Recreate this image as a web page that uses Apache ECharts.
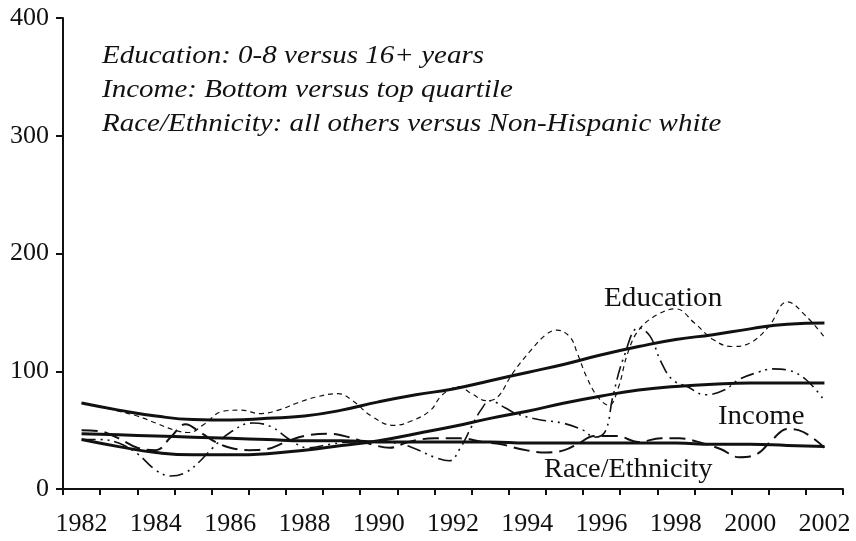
<!DOCTYPE html>
<html>
<head>
<meta charset="utf-8">
<script src="https://cdn.jsdelivr.net/npm/echarts@6/dist/echarts.min.js"></script>
<style>
html,body{margin:0;padding:0;background:#fff;}
#chart{width:856px;height:541px;}
</style>
</head>
<body>
<div id="chart"></div>
<script>
// Category years for the x axis
const years = ['1982','1983','1984','1985','1986','1987','1988','1989','1990','1991','1992','1993','1994','1995','1996','1997','1998','1999','2000','2001','2002'];
const yTicks = [0, 100, 200, 300, 400];

// Smoothed trend lines (one value per year)
const educationTrend = [73,67,62,59,58.5,60,62,67,74,80,85,92,99,106,114,121,127,131,136,140,141];
const incomeTrend    = [42,36,31,29,29,30,33,37,41,47,53,60,66,73,79,84,87,89,90,90,90];
const raceTrend      = [47,46,45,44,43,42,41,41,40,40,40,40,39,39,39,39,39,38,38,37,36];

// Observed (unsmoothed) series: [year, value]
const educationObserved = [[1982,73],[1982.5,70],[1983,66],[1983.5,62],[1984,56],[1984.5,50],[1984.9,48],[1985.3,55],[1985.8,66],[1986.3,67],[1986.8,64],[1987.3,67],[1987.8,73],[1988.3,78],[1988.9,81],[1989.3,75],[1989.8,62],[1990.4,54],[1990.9,58],[1991.4,67],[1991.65,78],[1991.9,84],[1992.15,87],[1992.5,81],[1992.9,75],[1993.2,78],[1993.6,98],[1994.1,118],[1994.5,131],[1994.8,135],[1995.15,129],[1995.35,115],[1995.6,95],[1995.9,78],[1996.2,71],[1996.45,86],[1996.7,115],[1997,135],[1997.5,148],[1998,153],[1998.5,141],[1999,127],[1999.5,121],[2000,124],[2000.5,138],[2001,159],[2001.5,147],[2002,129]];
const incomeObserved = [[1982,42],[1982.5,42],[1983,39],[1983.5,30],[1984,16],[1984.4,11],[1984.8,14],[1985.2,24],[1985.5,34],[1986,48],[1986.6,56],[1987.1,53],[1987.6,42],[1988.1,35],[1988.7,38],[1989.3,40],[1989.9,40],[1990.5,39],[1991,34],[1991.5,27],[1991.9,24],[1992.2,35],[1992.5,53],[1992.75,67],[1993,75],[1993.4,69],[1993.7,64],[1994.3,59],[1994.95,56],[1995.5,50],[1995.8,44],[1996.1,49],[1996.3,78],[1996.6,112],[1997,137],[1997.3,130],[1997.6,108],[1997.9,93],[1998.3,87],[1998.8,80],[1999.3,84],[1999.7,93],[2000.2,99],[2000.6,102],[2001,101],[2001.5,93],[2002,75]];
const raceObserved = [[1982,50],[1982.5,49],[1983,43],[1983.5,35],[1984,33],[1984.4,44],[1984.8,55],[1985.2,48],[1985.6,40],[1986,35],[1986.5,33],[1987,34],[1987.5,40],[1988,45],[1988.6,47],[1989.2,44],[1989.8,38],[1990.3,35],[1990.8,40],[1991.5,43],[1992.2,43],[1992.8,40],[1993.3,38],[1993.8,34],[1994.5,31],[1995,33],[1995.4,39],[1995.8,45],[1996.4,45],[1997,40],[1997.6,43],[1998.1,43],[1998.6,40],[1999.2,34],[1999.7,27],[2000.2,30],[2000.6,42],[2001,51],[2001.3,50],[2001.7,43],[2002,35]];

const noteLines = ['Education: 0-8 versus 16+ years','Income: Bottom versus top quartile','Race/Ethnicity: all others versus Non-Hispanic white'];
const seriesLabels = ['Education','Income','Race/Ethnicity'];

const INK = '#111';
const SERIF = '"Liberation Serif","Times New Roman",serif';

function trendData(vals){ return years.map((y,i)=>[Number(y), vals[i]]); }
function txt(s, x, y, font, sx){
  return {type:'text', x:x, y:y, scaleX:sx, style:{text:s, font:font, fill:INK, x:0, y:0, verticalAlign:'top', align:'left'}};
}

const chart = echarts.init(document.getElementById('chart'), null, {renderer:'canvas'});
chart.setOption({
  backgroundColor:'#fff',
  animation:false,
  grid:{left:63, right:13, top:18, bottom:52},
  xAxis:[{
    type:'category', data:years, boundaryGap:true,
    axisLine:{lineStyle:{color:INK, width:2}},
    axisTick:{show:true, interval:0, length:6, lineStyle:{color:INK, width:2}},
    axisLabel:{interval:1, color:INK, fontFamily:SERIF, fontSize:26, margin:22},
    splitLine:{show:false}
  },{
    type:'value', min:1981.5, max:2002.5, show:false
  }],
  yAxis:{
    type:'value', min:yTicks[0], max:yTicks[yTicks.length-1], interval:100,
    axisLine:{show:true, lineStyle:{color:INK, width:2}},
    axisTick:{show:true, length:7, lineStyle:{color:INK, width:2}},
    axisLabel:{color:INK, fontFamily:SERIF, fontSize:26, margin:14},
    splitLine:{show:false}
  },
  series:[
    {type:'line', xAxisIndex:1, data:trendData(educationTrend), smooth:true, symbol:'none', lineStyle:{color:INK, width:3}},
    {type:'line', xAxisIndex:1, data:trendData(incomeTrend), smooth:true, symbol:'none', lineStyle:{color:INK, width:3}},
    {type:'line', xAxisIndex:1, data:trendData(raceTrend), smooth:true, symbol:'none', lineStyle:{color:INK, width:3}},
    {type:'line', xAxisIndex:1, data:educationObserved, smooth:0.4, symbol:'none', lineStyle:{color:INK, width:1.2, type:[5,4]}},
    {type:'line', xAxisIndex:1, data:incomeObserved, smooth:0.4, symbol:'none', lineStyle:{color:INK, width:1.6, type:[14,5,2,5,2,5]}},
    {type:'line', xAxisIndex:1, data:raceObserved, smooth:0.4, symbol:'none', lineStyle:{color:INK, width:2, type:[16,7]}}
  ],
  graphic:[
    txt(noteLines[0], 102, 44, 'italic 25px '+SERIF, 1.16),
    txt(noteLines[1], 102, 78, 'italic 25px '+SERIF, 1.16),
    txt(noteLines[2], 102, 112, 'italic 25px '+SERIF, 1.16),
    txt(seriesLabels[0], 604, 285, '27px '+SERIF, 1.08),
    txt(seriesLabels[1], 718, 403, '27px '+SERIF, 1.07),
    txt(seriesLabels[2], 544, 456, '27px '+SERIF, 1.05)
  ]
});
</script>
</body>
</html>
